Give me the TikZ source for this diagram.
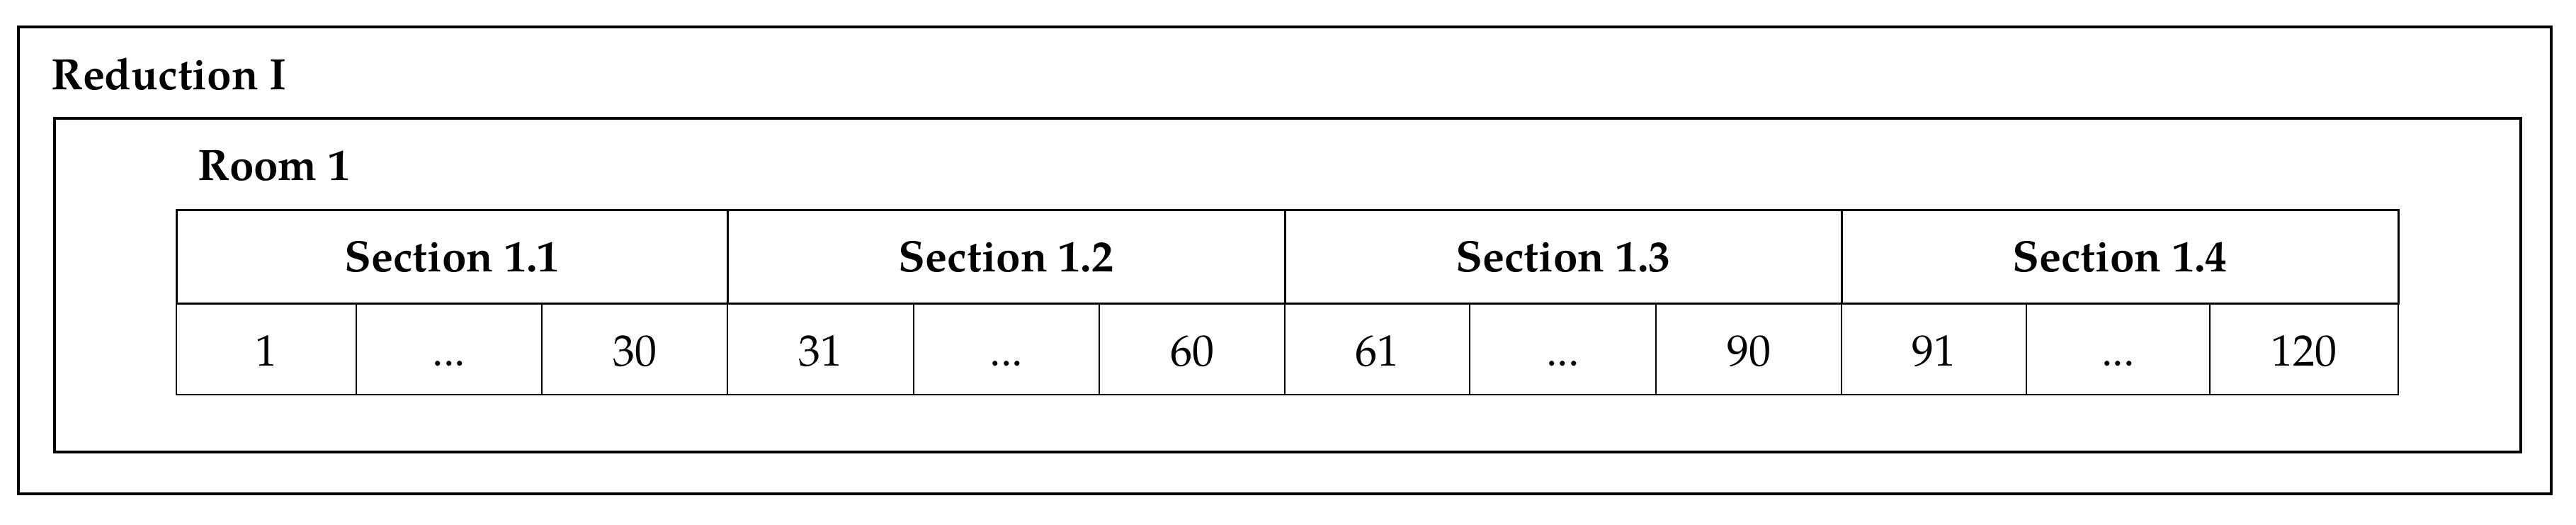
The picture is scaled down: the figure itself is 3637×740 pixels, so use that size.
\documentclass[tikz,border=0pt]{standalone}
\usepackage{fontspec}
\setmainfont{TeX Gyre Pagella}
\begin{document}
\begin{tikzpicture}[x=0.25pt,y=-0.25pt,
  outerbox/.style={draw, line width=1pt, inner sep=0pt},
  roombox/.style={draw, line width=0.8pt, inner sep=0pt},
  seccell/.style={draw, line width=0.75pt, inner sep=0pt, minimum height=33pt,
    text height=10.5pt, text depth=0pt, font=\fontsize{15.5}{18}\selectfont\bfseries},
  numcell/.style={draw, line width=0.7pt, inner sep=0pt, minimum height=32.25pt,
    text height=11.75pt, text depth=0pt, font=\fontsize{15.5}{18}\selectfont},
  titlelabel/.style={anchor=base west, inner sep=0pt, font=\fontsize{15.5}{18}\selectfont\bfseries}]
\useasboundingbox (0,0) rectangle (3637,740);
% frames
\node[outerbox, minimum width=894pt, minimum height=164.75pt] (reduction) at (1814,367.5) {};
\node[roombox, minimum width=870.5pt, minimum height=117.75pt] (room) at (1818,402.5) {};
\node[titlelabel] (redlabel) at (72,126) {Reduction I};
\node[titlelabel] (roomlabel) at (279,254) {Room 1};
% number cells
\node[numcell, minimum width=63.5pt]  (n1)  at (376,492.5) {1};
\node[numcell, minimum width=65.5pt]  (n2)  at (634,492.5) {...};
\node[numcell, minimum width=65.5pt]  (n3)  at (896,492.5) {30};
\node[numcell, minimum width=65.75pt] (n4)  at (1158.5,492.5) {31};
\node[numcell, minimum width=65.5pt]  (n5)  at (1421,492.5) {...};
\node[numcell, minimum width=65.5pt]  (n6)  at (1683,492.5) {60};
\node[numcell, minimum width=65.25pt] (n7)  at (1944.5,492.5) {61};
\node[numcell, minimum width=65.75pt] (n8)  at (2206.5,492.5) {...};
\node[numcell, minimum width=65.5pt]  (n9)  at (2469,492.5) {90};
\node[numcell, minimum width=65.25pt] (n10) at (2730.5,492.5) {91};
\node[numcell, minimum width=64.75pt] (n11) at (2990.5,492.5) {...};
\node[numcell, minimum width=66.5pt]  (n12) at (3253,492.5) {120};
% section cells
\node[seccell, minimum width=194.5pt]  (s1) at (638,362) {Section 1.1};
\node[seccell, minimum width=196.75pt] (s2) at (1420.5,362) {Section 1.2};
\node[seccell, minimum width=196.5pt]  (s3) at (2207,362) {Section 1.3};
\node[seccell, minimum width=196.5pt]  (s4) at (2993,362) {Section 1.4};
\end{tikzpicture}
\end{document}
